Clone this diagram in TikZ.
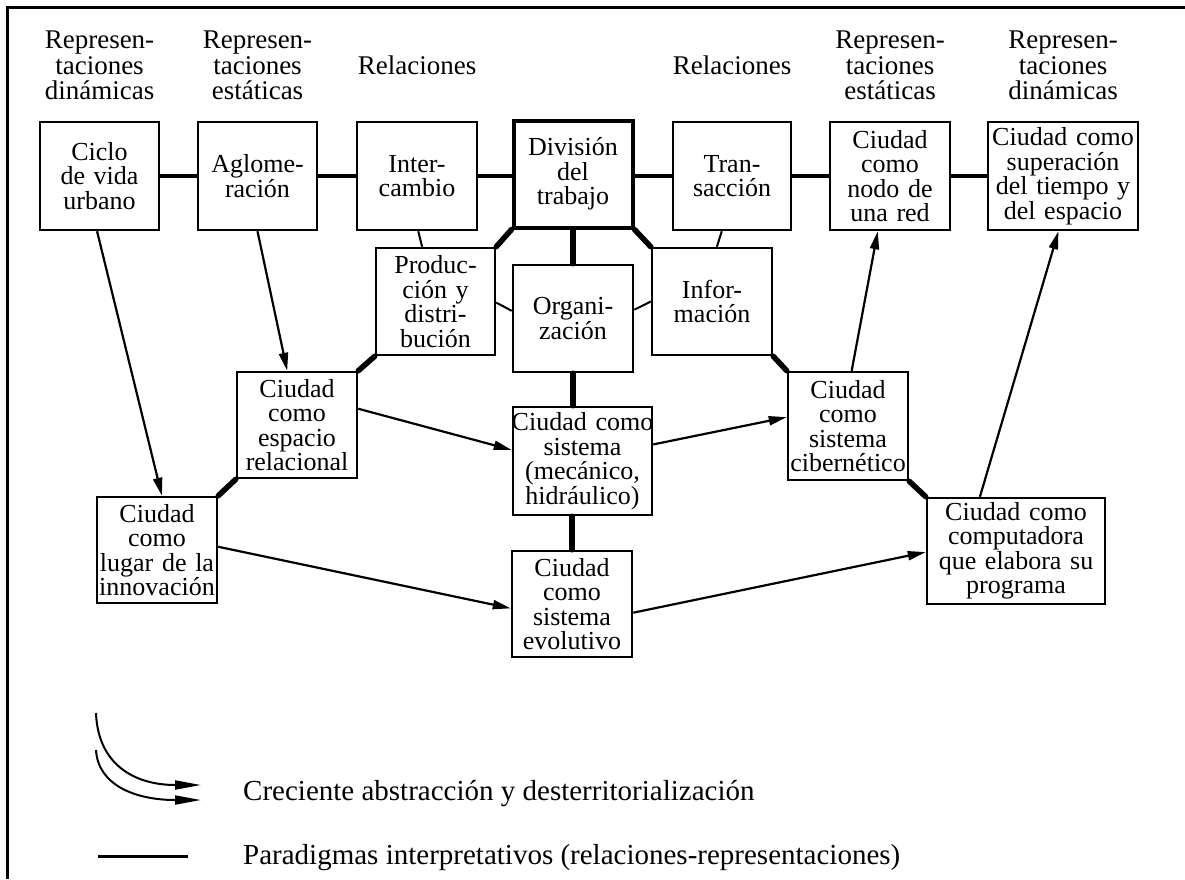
\documentclass[tikz,border=0pt]{standalone}
\usepackage{fontspec}
\setmainfont{Liberation Serif}
\usetikzlibrary{arrows.meta,calc}
\newcommand\bxfont{\fontsize{26pt}{24.5pt}\selectfont}
\newcommand\hdfont{\fontsize{27pt}{25.5pt}\selectfont}
\newcommand\lgfont{\fontsize{29pt}{30pt}\selectfont}
\begin{document}
\begin{tikzpicture}[x=1pt,y=-1pt,
  box/.style={draw, line width=2.5pt, align=center, inner xsep=0pt, inner ysep=0pt, font=\bxfont},
  hdr/.style={align=center, inner sep=0pt, font=\hdfont, anchor=north},
  hconn/.style={line width=4pt},
  tconn/.style={line width=5.5pt, line cap=round},
  thinl/.style={line width=2pt},
  arr/.style={line width=2.2pt, -{Triangle[length=18pt,width=9pt]}},
  legarr/.style={line width=2pt, -{Triangle[length=26pt,width=9pt]}},
  legtxt/.style={anchor=base west, inner sep=0pt, font=\lgfont},
  frame/.style={line width=3pt}
]
\useasboundingbox (0,0) rectangle (1185,879);
% frame
\draw[frame] (7,879) -- (7,7) -- (1185,7);

% headers
\node[hdr] (h1) at (99.5,31) {Represen-\\taciones\\dinámicas};
\node[hdr] (h2) at (257.5,31) {Represen-\\taciones\\estáticas};
\node[hdr] (h3) at (417,56) {Relaciones};
\node[hdr] (h4) at (732,56) {Relaciones};
\node[hdr] (h5) at (890,31) {Represen-\\taciones\\estáticas};
\node[hdr] (h6) at (1063,31) {Represen-\\taciones\\dinámicas};

% top row
\node[box, text width=119pt, minimum height=108pt] (ciclo) at (99.5,176) {Ciclo\\de vida\\urbano};
\node[box, text width=119pt, minimum height=108pt] (aglo) at (257.5,176) {Aglome-\\ración};
\node[box, text width=120pt, minimum height=108pt] (inter) at (417,176) {Inter-\\cambio};
\node[box, line width=4pt, text width=119pt, minimum height=107pt] (div) at (573,174) {División\\del\\trabajo};
\node[box, text width=118pt, minimum height=108pt] (trans) at (732,176) {Tran-\\sacción};
\node[box, text width=120pt, minimum height=108pt] (nodo) at (890,176) {Ciudad\\como\\nodo de\\una red};
\node[box, text width=150pt, minimum height=108pt] (super) at (1063,176) {Ciudad como\\superación\\del tiempo y\\del espacio};

% second row
\node[box, text width=119pt, minimum height=107pt] (prod) at (435.5,301.5) {Produc-\\ción y\\distri-\\bución};
\node[box, text width=120pt, minimum height=107pt] (org) at (573,318.5) {Organi-\\zación};
\node[box, text width=120pt, minimum height=107pt] (info) at (712,301.5) {Infor-\\mación};

% third row
\node[box, text width=120pt, minimum height=106pt] (esp) at (297,425) {Ciudad\\como\\espacio\\relacional};
\node[box, text width=147pt, inner xsep=-4pt, minimum height=108pt] (sis) at (582.5,461) {Ciudad como\\sistema\\(mecánico,\\hidráulico)};
\node[box, text width=120pt, minimum height=108pt] (ciber) at (848,426) {Ciudad\\como\\sistema\\cibernético};

% fourth row
\node[box, text width=120pt, minimum height=106pt] (lugar) at (157,550) {Ciudad\\como\\lugar de la\\innovación};
\node[box, text width=120pt, minimum height=106pt] (evol) at (572,604) {Ciudad\\como\\sistema\\evolutivo};
\node[box, text width=178pt, minimum height=106pt] (comp) at (1016,551) {Ciudad como\\computadora\\que elabora su\\programa};

% top horizontal connectors
\draw[hconn] (ciclo.east) -- (aglo.west);
\draw[hconn] (aglo.east) -- (inter.west);
\draw[hconn] (inter.east) -- (inter.east -| div.west);
\draw[hconn] (trans.west -| div.east) -- (trans.west);
\draw[hconn] (trans.east) -- (nodo.west);
\draw[hconn] (nodo.east) -- (super.west);

% thick paradigm connectors
\draw[tconn] (div.south west) -- (prod.north east);
\draw[tconn] (div.south) -- (org.north);
\draw[tconn] (div.south east) -- (info.north west);
\draw[tconn] (prod.south west) -- (esp.north east);
\draw[tconn] (org.south) -- (org.south |- sis.north);
\draw[tconn] (info.south east) -- (ciber.north west);
\draw[tconn] (esp.south west) -- (lugar.north east);
\draw[tconn] (evol.north |- sis.south) -- (evol.north);
\draw[tconn] (ciber.south east) -- (comp.north west);

% thin connectors
\draw[thinl] ($(inter.south west)!0.51!(inter.south east)$) -- ($(prod.north west)!0.39!(prod.north east)$);
\draw[thinl] ($(trans.south west)!0.415!(trans.south east)$) -- ($(info.north west)!0.54!(info.north east)$);
\draw[thinl] ($(prod.north east)!0.51!(prod.south east)$) -- ($(org.north west)!0.43!(org.south west)$);
\draw[thinl] ($(org.north east)!0.42!(org.south east)$) -- ($(info.north west)!0.5!(info.south west)$);

% arrows
\draw[arr] ($(ciclo.south west)!0.48!(ciclo.south east)$) -- ($(lugar.north west)!0.54!(lugar.north east)$);
\draw[arr] ($(aglo.south west)!0.5!(aglo.south east)$) -- ($(esp.north west)!0.42!(esp.north east)$);
\draw[arr] ($(esp.north east)!0.35!(esp.south east)$) -- ($(sis.north west)!0.4!(sis.south west)$);
\draw[arr] ($(sis.north east)!0.35!(sis.south east)$) -- ($(ciber.north west)!0.42!(ciber.south west)$);
\draw[arr] ($(ciber.north west)!0.53!(ciber.north east)$) -- ($(nodo.south west)!0.4!(nodo.south east)$);
\draw[arr] ($(lugar.north east)!0.47!(lugar.south east)$) -- ($(evol.north west)!0.54!(evol.south west)$);
\draw[arr] ($(evol.north east)!0.58!(evol.south east)$) -- ($(comp.north west)!0.51!(comp.south west)$);
\draw[arr] ($(comp.north west)!0.30!(comp.north east)$) -- ($(super.south west)!0.47!(super.south east)$);

% legend
\coordinate (l1s) at (96,713);
\coordinate (l1e) at (201,785);
\coordinate (l2s) at (96,750);
\coordinate (l2e) at (201,800);
\draw[legarr] (l1s) .. controls (98,765) and (135,785) .. (l1e);
\draw[legarr] (l2s) .. controls (98,785) and (135,800) .. (l2e);
\node[legtxt] (t1) at (243,800) {Creciente abstracción y desterritorialización};
\coordinate (p1) at (98,856);
\coordinate (p2) at (188,856);
\draw[line width=3pt] (p1) -- (p2);
\node[legtxt] (t2) at (243,864) {Paradigmas interpretativos (relaciones-representaciones)};
\end{tikzpicture}
\end{document}
